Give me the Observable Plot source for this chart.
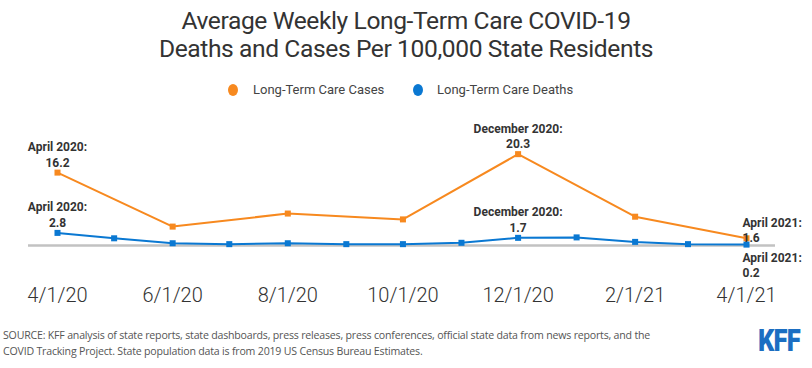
<!DOCTYPE html>
<html><head><meta charset="utf-8">
<script src="https://cdn.jsdelivr.net/npm/d3@7"></script>
<script src="https://cdn.jsdelivr.net/npm/@observablehq/plot@0.6"></script>
<style>
body{margin:0;background:#fff;font-family:Roboto, sans-serif;}
#wrap{width:812px;height:368px;position:relative;overflow:hidden;background:#fff}
.title{position:absolute;top:7px;left:0;width:812px;text-align:center;font-size:24.6px;line-height:28px;color:#333;font-weight:400;letter-spacing:-0.4px}
.lg{position:absolute;top:82px;font-size:13px;color:#444;line-height:16px;white-space:nowrap}
.lg span.dot{position:absolute;width:10px;height:12px;border-radius:50%;top:2px}
#chart{position:absolute;top:105px;left:0}
.src{position:absolute;left:3px;top:327px;font-family:"Open Sans",sans-serif;font-size:10.6px;line-height:16px;color:#555;letter-spacing:-0.2px}
.logo{position:absolute;left:758px;top:321px;font-family:Roboto,sans-serif;font-weight:900;font-size:32px;color:#1b6ec2;transform:scaleX(0.8);transform-origin:left top;letter-spacing:-1px}
</style></head>
<body><div id="wrap">
<div class="title">Average Weekly Long-Term Care COVID-19<br>Deaths and Cases Per 100,000 State Residents</div>
<div class="lg" style="left:228px"><span class="dot" style="left:0;background:#f7891f"></span><span style="margin-left:25px">Long-Term Care Cases</span></div>
<div class="lg" style="left:413px"><span class="dot" style="left:0;background:#0a78d2"></span><span style="margin-left:24px">Long-Term Care Deaths</span></div>
<div id="chart"></div>
<div class="src">SOURCE: KFF analysis of state reports, state dashboards, press releases, press conferences, official state data from news reports, and the<br>COVID Tracking Project. State population data is from 2019 US Census Bureau Estimates.</div>
<div class="logo">KFF</div>
</div>
<script>
const casesDates = ["2020-04-01","2020-06-01","2020-08-01","2020-10-01","2020-12-01","2021-02-01","2021-04-01"];
const casesValues = [16.2, 4.2, 7.1, 5.8, 20.3, 6.4, 1.6];
const deathsDates = ["2020-04-01","2020-05-01","2020-06-01","2020-07-01","2020-08-01","2020-09-01","2020-10-01","2020-11-01","2020-12-01","2021-01-01","2021-02-01","2021-03-01","2021-04-01"];
const deathsValues = [2.8, 1.6, 0.5, 0.3, 0.5, 0.3, 0.3, 0.6, 1.7, 1.8, 0.8, 0.3, 0.2];
const tickDates = ["2020-04-01","2020-06-01","2020-08-01","2020-10-01","2020-12-01","2021-02-01","2021-04-01"];
const tickLabels = ["4/1/20","6/1/20","8/1/20","10/1/20","12/1/20","2/1/21","4/1/21"];
const annoCasesDates = ["2020-04-01","2020-12-01"];
const annoCasesText = ["April 2020:\n16.2","December 2020:\n20.3"];
const annoDeathsDates = ["2020-04-01","2020-12-01"];
const annoDeathsText = ["April 2020:\n2.8","December 2020:\n1.7"];
const endCasesText = "April 2021:\n1.6";
const endDeathsText = "April 2021:\n0.2";

const orange = "#f7891f", blue = "#0a78d2";
const P = d => new Date(d + "T00:00:00Z");
const cases = casesDates.map((d,i)=>({date:P(d), value:casesValues[i]}));
const deaths = deathsDates.map((d,i)=>({date:P(d), value:deathsValues[i]}));
const labelMap = new Map(tickDates.map((d,i)=>[+P(d), tickLabels[i]]));
const caseLookup = new Map(cases.map(c=>[+c.date,c.value]));
const deathLookup = new Map(deaths.map(c=>[+c.date,c.value]));
const annoC = annoCasesDates.map((d,i)=>({date:P(d), value:caseLookup.get(+P(d)), text:annoCasesText[i]}));
const annoD = annoDeathsDates.map((d,i)=>({date:P(d), value:deathLookup.get(+P(d)), text:annoDeathsText[i]}));
const endC = [{date:cases[cases.length-1].date, value:cases[cases.length-1].value, text:endCasesText}];
const endD = [{date:deaths[deaths.length-1].date, value:deaths[deaths.length-1].value, text:endDeathsText}];

const labelStyle = {fontSize:12, fontWeight:700, fill:"#333", fontFamily:"Roboto, sans-serif", lineHeight:1.3};

const chart = Plot.plot({
  width: 812, height: 205,
  marginLeft: 57, marginRight: 66, marginTop: 41, marginBottom: 65,
  style: {background:"transparent", overflow:"visible"},
  x: {type:"utc", domain:[P("2020-04-01"), P("2021-04-01")]},
  y: {domain:[0,22], axis:null},
  marks: [
    Plot.ruleY([0], {stroke:"#c2c2c2", strokeWidth:2.5, insetLeft:-29, insetRight:-29}),
    Plot.axisX(tickDates.map(P), {tickSize:0, tickPadding:42, fontSize:20, color:"#333", fontFamily:"Roboto, sans-serif", fontWeight:300, tickFormat:d=>labelMap.get(+d)}),
    Plot.line(cases, {x:"date", y:"value", stroke:orange, strokeWidth:2}),
    Plot.dot(cases, {x:"date", y:"value", symbol:"square", fill:orange, r:3.4}),
    Plot.line(deaths, {x:"date", y:"value", stroke:blue, strokeWidth:2}),
    Plot.dot(deaths, {x:"date", y:"value", symbol:"square", fill:blue, r:3.4}),
    Plot.text(annoC, {x:"date", y:"value", text:"text", lineAnchor:"bottom", dy:-6, ...labelStyle}),
    Plot.text(annoD, {x:"date", y:"value", text:"text", lineAnchor:"bottom", dy:-6, ...labelStyle}),
    Plot.text(endC, {x:"date", y:"value", text:"text", lineAnchor:"bottom", textAnchor:"start", dx:-4, dy:4, ...labelStyle}),
    Plot.text(endD, {x:"date", y:"value", text:"text", lineAnchor:"top", textAnchor:"start", dx:-4, dy:6, ...labelStyle})
  ]
});
document.getElementById("chart").appendChild(chart);
</script>
</body></html>
